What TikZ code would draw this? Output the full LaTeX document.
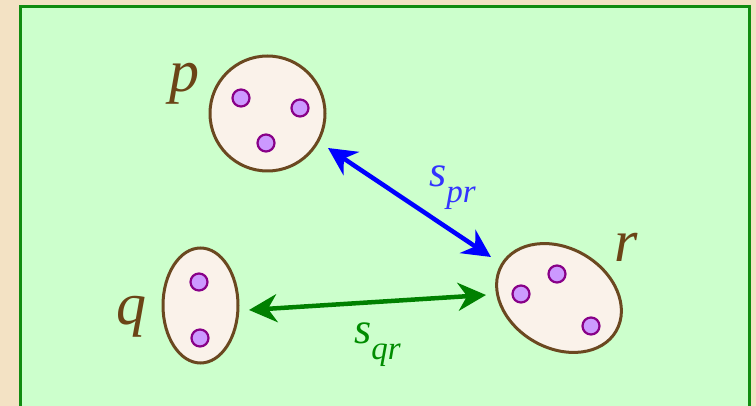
\documentclass[tikz,border=0pt]{standalone}
\usepackage{fontspec}
\setmainfont{Liberation Serif}[ItalicFont={Liberation Serif Italic}]
\newfontfamily\labelfont{Liberation Serif Italic}
\usepackage{xcolor}
\usetikzlibrary{arrows.meta,shapes.geometric}

\definecolor{parchment}{RGB}{243,226,196}
\definecolor{boxgreen}{RGB}{16,140,16}
\definecolor{boxfill}{RGB}{204,255,204}
\definecolor{setbrown}{RGB}{107,72,32}
\definecolor{setfill}{RGB}{250,242,234}
\definecolor{elemline}{RGB}{136,0,136}
\definecolor{elemfill}{RGB}{204,153,255}
\definecolor{labelbrown}{RGB}{107,68,22}
\definecolor{sblue}{RGB}{51,51,255}
\definecolor{sgreen}{RGB}{0,140,0}

\begin{document}
\begin{tikzpicture}[x=1pt,y=-1pt,
  setnode/.style={draw=setbrown,fill=setfill,line width=3pt,inner sep=0pt},
  elem/.style={circle,draw=elemline,fill=elemfill,line width=2.2pt,inner sep=0pt,minimum size=17pt},
  setlabel/.style={text=labelbrown,inner sep=0pt,anchor=base,font=\fontsize{60}{60}\labelfont},
  dist/.style={line width=4.5pt,{Stealth[length=28pt,width=28pt,inset=9pt]}-{Stealth[length=28pt,width=28pt,inset=9pt]}}]
  \useasboundingbox (0,0) rectangle (756,406);
  \fill[parchment] (0,0) rectangle (756,406);
  \draw[line width=3pt,draw=boxgreen,fill=boxfill] (20,7) rectangle (749,430);
  % the three sets
  \node[setnode,circle,minimum size=115pt] (p) at (267.5,113.5) {};
  \node[setnode,ellipse,minimum width=75pt,minimum height=115pt] (q) at (200.5,305.5) {};
  \node[setnode,ellipse,minimum width=132pt,minimum height=100pt,rotate=-30] (r) at (559,298) {};
  % elements
  \node[elem] (p1) at (241,98) {};
  \node[elem] (p2) at (300,108) {};
  \node[elem] (p3) at (266,143) {};
  \node[elem] (q1) at (199,282) {};
  \node[elem] (q2) at (200,338) {};
  \node[elem] (r1) at (557,274) {};
  \node[elem] (r2) at (521,294) {};
  \node[elem] (r3) at (591,326) {};
  % set names
  \node[setlabel] (p label) at (184,92) {p};
  \node[setlabel] (q label) at (131,325) {q};
  \node[setlabel] (r label) at (626,262) {r};
  % distances
  \coordinate (pr a) at (328,148);
  \coordinate (pr b) at (491,257);
  \coordinate (qr a) at (249,310);
  \coordinate (qr b) at (486,295);
  \draw[dist,blue] (pr a) -- (pr b);
  \draw[dist,green!50!black] (qr a) -- (qr b);
  \node[anchor=base west,inner sep=0pt,text=sblue] (spr) at (429,187)
    {\fontsize{44}{44}\labelfont s\raisebox{-16pt}{\fontsize{33}{33}\labelfont pr}};
  \node[anchor=base west,inner sep=0pt,text=sgreen] (sqr) at (354,344)
    {\fontsize{44}{44}\labelfont s\raisebox{-16pt}{\fontsize{33}{33}\labelfont qr}};
\end{tikzpicture}
\end{document}
